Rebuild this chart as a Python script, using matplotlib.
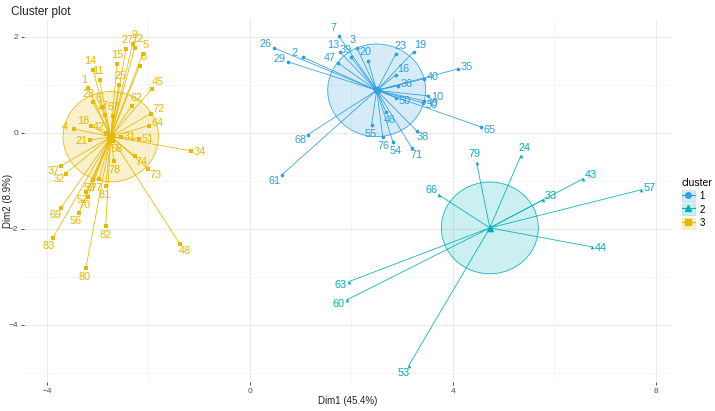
import numpy as np
import matplotlib.pyplot as plt
from matplotlib.patches import Circle, Patch
from matplotlib.lines import Line2D

plt.rcParams['font.family'] = ['Liberation Sans', 'DejaVu Sans']

# cluster 1 (blue)
c1_labels = ['7', '3', '13', '26', '2', '29', '47', '39', '20', '23', '19', '35', '40', '16',
             '36', '10', '49', '50', '30', '65', '68', '46', '55', '76', '38', '54', '71', '61']
c1_x = [1.75, 2.11, 1.77, 0.47, 1.04, 0.75, 1.73, 1.99, 2.33, 2.88, 3.23, 4.10, 3.43, 2.88,
        2.92, 3.51, 3.43, 2.88, 3.41, 4.55, 1.14, 2.68, 2.40, 2.62, 3.29, 2.82, 3.19, 0.63]
c1_y = [2.02, 1.77, 1.69, 1.77, 1.58, 1.48, 1.46, 1.58, 1.50, 1.65, 1.69, 1.33, 1.125, 1.21,
        0.98, 0.77, 0.67, 0.73, 0.625, 0.125, -0.04, 0.44, 0.17, -0.08, 0.04, -0.19, -0.31, -0.875]

# cluster 2 (teal)
c2_labels = ['79', '24', '66', '43', '33', '57', '44', '63', '60', '53']
c2_x = [4.47, 5.34, 3.72, 6.56, 5.77, 7.70, 6.74, 1.95, 1.91, 3.13]
c2_y = [-0.625, -0.48, -1.29, -0.96, -1.40, -1.19, -2.375, -3.10, -3.48, -4.85]

# cluster 3 (yellow)
c3_labels = ['9', '12', '27', '5', '14', '15', '8', '1', '11', '25', '45', '28', '62', '6',
             '17', '67', '72', '18', '4', '42', '31', '64', '21', '58', '51', '37', '74', '73',
             '34', '32', '59', '77', '52', '81', '70', '69', '56', '82', '83', '80', '48', '78']
c3_x = [-2.31, -2.27, -2.44, -2.11, -3.09, -2.62, -2.17, -3.19, -2.96, -2.58, -1.93, -3.10,
        -2.33, -2.92, -2.86, -2.70, -1.95, -3.13, -3.47, -2.84, -2.54, -1.99, -3.15, -2.70,
        -2.19, -3.72, -2.27, -2.00, -1.16, -3.63, -3.09, -2.97, -3.23, -2.84, -3.19, -3.72,
        -3.37, -2.84, -3.88, -3.23, -1.38, -2.68]
c3_y = [1.85, 1.77, 1.75, 1.65, 1.31, 1.44, 1.40, 0.94, 1.10, 1.00, 0.92, 0.65,
        0.56, 0.54, 0.37, 0.35, 0.40, 0.15, 0.08, 0.00, -0.08, 0.15, -0.15, -0.17,
        -0.12, -0.69, -0.48, -0.75, -0.375, -0.85, -0.98, -0.96, -1.23, -1.10, -1.33, -1.56,
        -1.67, -1.94, -2.19, -2.81, -2.31, -0.58]

centers_x = [2.50, 4.73, -2.74]
centers_y = [0.885, -1.98, -0.08]
radii = [0.965, 0.955, 0.94]

colors = ['#2E9FDF', '#00AFBB', '#E7B800']
markers = ['o', '^', 's']
names = ['1', '2', '3']

clusters = [(c1_labels, c1_x, c1_y), (c2_labels, c2_x, c2_y), (c3_labels, c3_x, c3_y)]

fig = plt.figure(figsize=(7.15, 4.11), dpi=100)
ax = fig.add_axes([24 / 715, 29 / 411, 648 / 715, 362 / 411])
ax.set_xlim(-4.45, 8.32)
ax.set_ylim(-5.19, 2.35)

ax.set_xticks([-4, 0, 4, 8])
ax.set_yticks([-4, -2, 0, 2])
ax.set_xticks([-2, 2, 6], minor=True)
ax.set_yticks([-5, -3, -1, 1], minor=True)
ax.grid(which='major', color='#EBEBEB', linewidth=0.8)
ax.grid(which='minor', color='#F2F2F2', linewidth=0.5)
ax.set_axisbelow(True)
for s in ax.spines.values():
    s.set_visible(False)
ax.tick_params(which='major', length=2, width=0.6, color='#333333', labelsize=6,
               labelcolor='#4D4D4D', pad=2)
ax.tick_params(which='minor', length=0)
ax.set_xlabel('Dim1 (45.4%)', fontsize=7, labelpad=1, color='#222222')
ax.set_ylabel('Dim2 (8.9%)', fontsize=7, color='#222222')
ax.yaxis.set_label_coords(-0.017, 0.5)
ax.set_title('Cluster plot', fontsize=8.5, loc='left', x=-0.02, y=0.99, color='#222222')

for k, (labs, xs, ys) in enumerate(clusters):
    col = colors[k]
    cx, cy = centers_x[k], centers_y[k]
    ax.add_patch(Circle((cx, cy), radii[k], facecolor=col, alpha=0.2, edgecolor='none', zorder=1))
    ax.add_patch(Circle((cx, cy), radii[k], facecolor='none', edgecolor=col, linewidth=0.6,
                        alpha=0.9, zorder=2))
    for x, y in zip(xs, ys):
        ax.plot([cx, x], [cy, y], color=col, linewidth=0.55, zorder=3)
    ax.scatter(xs, ys, s=7, color=col, marker=markers[k], zorder=4, linewidths=0)
    ax.scatter([cx], [cy], s=30, color=col, marker=markers[k], zorder=5, linewidths=0)
    for lab, x, y in zip(labs, xs, ys):
        dx, dy = (x - cx) * 50.75, (y - cy) * 48
        d = np.hypot(dx, dy)
        if d < 1:
            ox, oy = 0, 8
        else:
            ox, oy = dx / d * 9, dy / d * 9
        ax.annotate(lab, (x, y), xytext=(ox * 0.72, oy * 0.72), textcoords='offset points',
                    ha='center', va='center', fontsize=7.8, color=col, zorder=6)

handles = []
for k in range(3):
    handles.append((Patch(facecolor=colors[k], alpha=0.2, edgecolor=colors[k], linewidth=0.8),
                    Line2D([0], [0], color=colors[k], marker=markers[k], markersize=4, linewidth=0.8)))
fig.legend(handles, names, loc='upper left', bbox_to_anchor=(678 / 715, 1 - 174 / 411),
           frameon=False, title='cluster', fontsize=7, title_fontsize=7.5,
           handlelength=1.3, handleheight=1.4, handletextpad=0.5, labelspacing=0.25,
           alignment='left', borderaxespad=0)

fig.savefig('out.png', dpi=100)
